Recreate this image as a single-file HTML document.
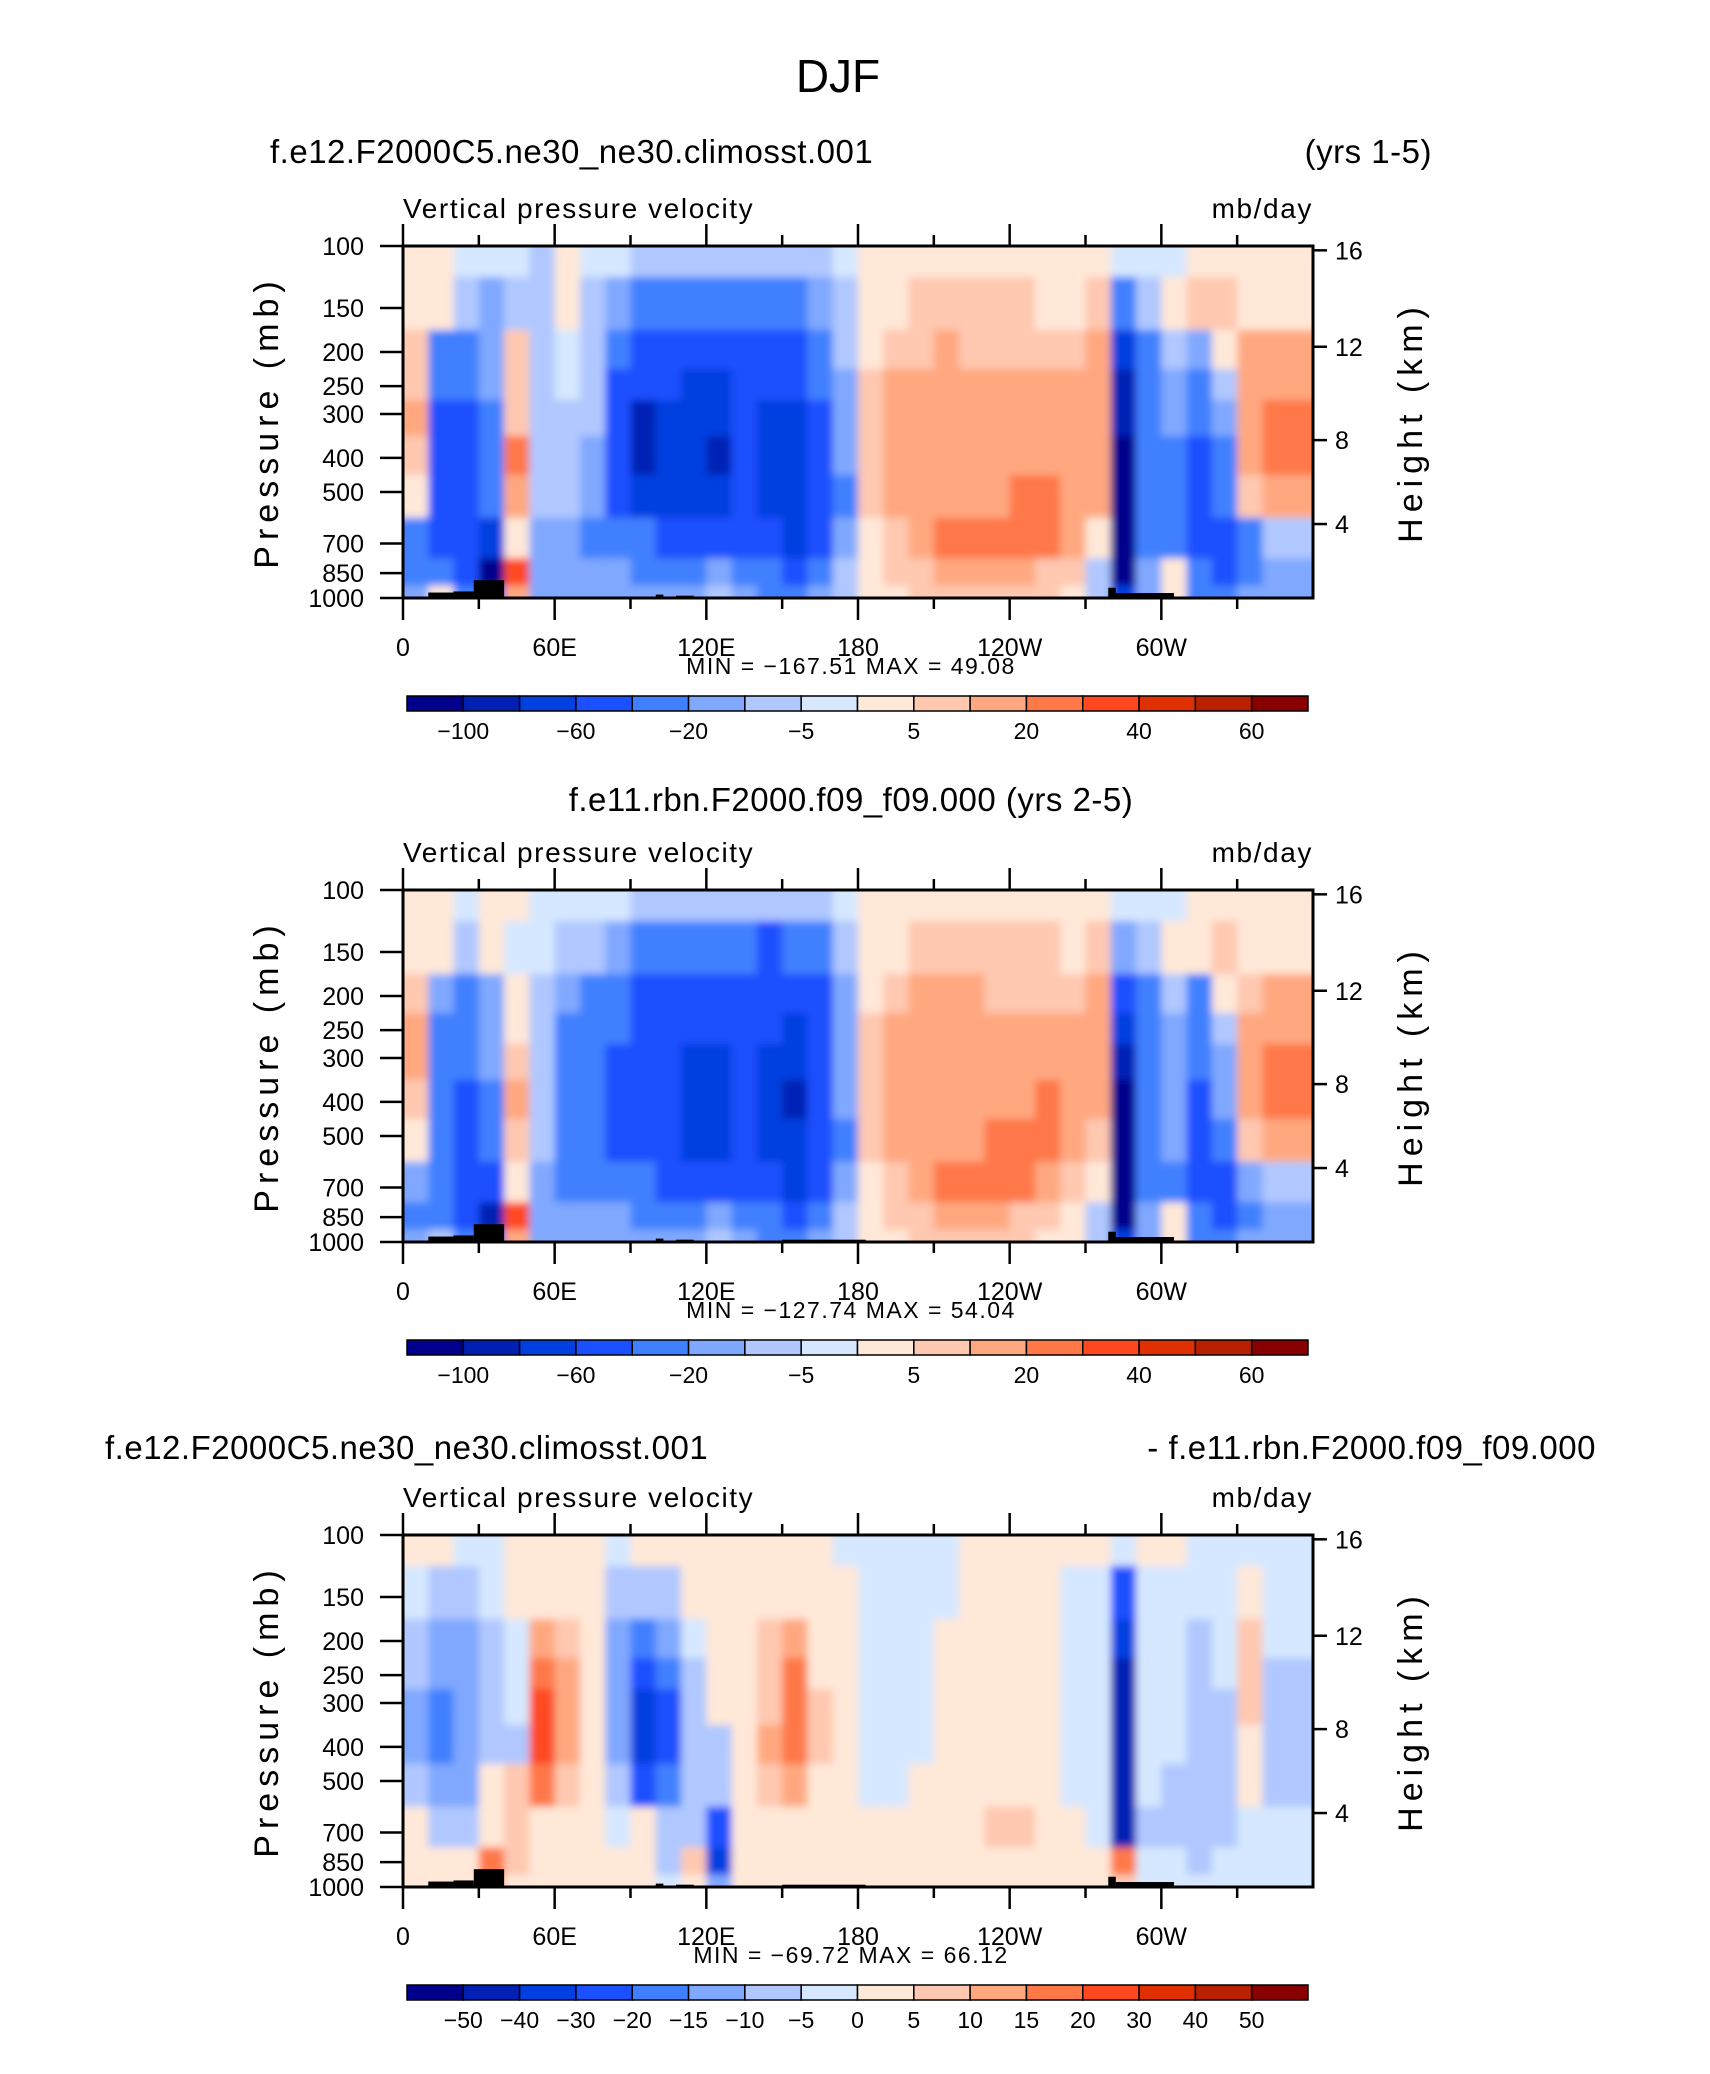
<!DOCTYPE html>
<html><head><meta charset="utf-8"><style>
html,body{margin:0;padding:0;background:#fff;}
svg{display:block;font-family:"Liberation Sans",sans-serif;}
</style></head><body>
<svg id="fig" width="1710" height="2074" viewBox="0 0 1710 2074" xmlns="http://www.w3.org/2000/svg">
<defs><filter id="soft" x="-2%" y="-2%" width="104%" height="104%"><feGaussianBlur stdDeviation="4"/></filter></defs>
<text x="838" y="92" font-size="46" text-anchor="middle" fill="#000" font-weight="300">DJF</text>
<g id="panels"></g>
</svg>
<script>
const levels = [100,150,200,250,300,400,500,700,850,1000];
const lonStart = [0,10,20,30,40,50,60,70,80,90,100,110,120,130,140,150,160,170,180,190,200,210,220,230,240,250,260,270,280,290,300,310,320,330,340,350];
// ---- Panel 1: f.e12 ----
const a100 = [3,2,-3,-3,-3,-5,2,-3,-3,-5,-5,-5,-5,-5,-5,-5,-5,-3,3,3,3,3,3,3,3,3,3,3,-3,-3,-3,3,3,3,3,3];
const a150 = [3,2,-5,-10,-5,-5,3,-5,-15,-20,-30,-30,-25,-20,-25,-25,-15,-5,3,4,6,8,8,6,6,5,5,8,-20,-5,3,8,8,5,5,5];
const a200 = [8,-20,-30,-15,8,-5,-3,-5,-30,-40,-50,-50,-50,-40,-50,-45,-30,-8,5,8,10,12,10,10,10,10,10,12,-60,-20,-5,-10,3,12,12,12];
const a250 = [10,-35,-35,-15,6,-5,-4,-5,-40,-55,-55,-60,-60,-45,-55,-55,-35,-10,6,12,15,15,12,15,15,12,12,15,-80,-25,-10,-30,-5,15,20,20];
const a300 = [12,-40,-40,-20,8,-5,-5,-8,-50,-80,-60,-65,-70,-50,-60,-60,-40,-12,8,15,15,15,12,15,15,15,15,18,-90,-25,-15,-35,-10,20,30,25];
const a400 = [10,-40,-40,-25,25,-5,-5,-10,-50,-80,-60,-65,-80,-55,-60,-65,-40,-15,8,15,15,15,15,15,15,20,18,20,-100,-30,-20,-40,-20,20,30,25];
const a500 = [3,-40,-40,-30,15,-5,-8,-15,-40,-60,-60,-60,-70,-55,-60,-60,-40,-20,8,12,15,18,20,20,22,22,20,15,-100,-30,-20,-40,-30,10,15,12];
const a700 = [-20,-40,-40,-60,5,-10,-15,-20,-25,-30,-40,-40,-40,-40,-50,-60,-40,-15,5,10,15,25,25,25,25,22,20,5,-100,-25,-30,-40,-40,-20,-5,-5];
const a850 = [-20,-30,-50,-100,40,-10,-15,-15,-15,-20,-20,-20,-10,-20,-30,-40,-25,-8,3,8,10,12,12,12,12,10,8,-5,-100,-15,5,-30,-40,-25,-10,-10];
const a1000 = [-10,5,-20,-50,20,-10,-10,-10,-10,-15,-15,-15,-5,-15,-20,-25,-15,-5,3,5,8,8,8,8,8,8,5,-5,-60,-10,5,-20,-20,-15,-10,-10];
// ---- Panel 2: f.e11 ----
const b100 = [3,2,-3,3,3,-3,-3,-3,-3,-5,-5,-5,-5,-8,-8,-5,-5,-3,3,3,3,3,3,3,3,3,3,3,-3,-3,-3,3,3,3,3,3];
const b150 = [3,3,-5,5,-3,-3,-5,-8,-15,-20,-25,-30,-30,-30,-40,-30,-20,-5,3,5,8,8,8,6,6,6,5,8,-15,-5,3,5,8,5,5,5];
const b200 = [10,-10,-20,-10,5,-5,-15,-20,-30,-40,-40,-50,-50,-45,-50,-50,-40,-10,5,10,15,15,12,10,10,10,10,12,-40,-20,-5,-20,3,10,12,12];
const b250 = [15,-20,-30,-15,5,-5,-30,-20,-35,-45,-50,-55,-55,-50,-55,-60,-40,-12,6,12,18,18,15,15,15,15,15,15,-60,-25,-10,-30,-5,15,20,20];
const b300 = [15,-25,-35,-15,8,-5,-30,-20,-40,-50,-50,-60,-60,-50,-60,-65,-45,-15,8,15,18,18,15,15,18,18,20,15,-80,-30,-10,-35,-10,20,30,25];
const b400 = [10,-25,-40,-20,15,-5,-30,-20,-40,-50,-55,-60,-65,-55,-60,-80,-45,-15,8,15,18,18,15,18,20,25,20,15,-100,-30,-15,-40,-15,20,30,25];
const b500 = [3,-30,-40,-25,10,-5,-30,-20,-40,-50,-55,-60,-60,-55,-60,-70,-50,-20,8,12,15,18,20,22,25,22,18,10,-100,-30,-15,-40,-25,10,15,12];
const b700 = [-15,-30,-40,-50,5,-10,-25,-20,-25,-30,-40,-40,-40,-40,-50,-60,-40,-15,5,10,15,25,28,28,22,18,10,3,-100,-25,-30,-40,-40,-15,-5,-5];
const b850 = [-20,-30,-50,-80,40,-10,-15,-15,-15,-20,-20,-20,-10,-20,-30,-40,-25,-8,3,8,10,12,12,12,10,10,5,-5,-100,-15,5,-30,-40,-25,-10,-10];
const b1000 = [-10,-5,-20,-40,20,-10,-10,-10,-10,-15,-15,-15,-5,-15,-20,-25,-15,-5,3,5,8,8,8,8,8,5,5,-5,-60,-10,5,-20,-20,-15,-10,-10];
// ---- Panel 3: difference ----
const c100 = [3,3,-3,-3,3,3,3,3,-3,3,3,3,3,3,3,3,3,-3,-3,-3,-3,-3,3,3,3,3,3,3,-3,3,3,-3,-3,-3,-3,-3];
const c150 = [-3,-5,-5,-3,3,5,5,3,-5,-5,-5,3,3,3,5,5,3,3,-3,-3,-3,-3,3,3,3,3,-3,-3,-20,-3,-3,-3,-3,3,-3,-3];
const c200 = [-5,-10,-10,-5,-3,15,10,5,-10,-15,-10,-3,3,5,10,15,5,3,-3,-3,-3,3,3,3,3,3,-3,-3,-30,-3,-3,-5,-3,8,-3,-3];
const c250 = [-5,-10,-10,-5,-3,20,15,5,-10,-20,-15,-5,3,5,10,20,5,3,-3,-3,-3,3,3,3,3,3,-3,-3,-40,-3,-3,-5,-3,10,-5,-5];
const c300 = [-10,-15,-10,-5,-3,30,15,5,-10,-30,-20,-5,3,5,10,20,8,3,-3,-3,-3,3,3,3,3,3,-3,-3,-40,-3,-3,-5,-5,10,-5,-5];
const c400 = [-10,-15,-10,-5,-5,30,15,5,-10,-30,-20,-5,-5,5,15,20,8,3,-3,-3,-3,3,3,3,3,3,-3,-3,-40,-3,-3,-8,-5,5,-5,-5];
const c500 = [-5,-10,-10,3,10,20,10,5,-5,-20,-15,-5,-5,5,10,15,5,3,-3,-3,3,3,3,5,5,3,-3,-3,-40,-3,-5,-5,-5,3,-5,-8];
const c700 = [3,-5,-5,5,10,5,5,3,-3,3,-5,-5,-20,3,5,5,3,3,3,3,3,5,5,8,8,5,3,-3,-40,-5,-5,-5,-5,-3,-3,-3];
const c850 = [3,3,5,20,10,5,5,3,3,5,-5,10,-30,3,5,3,3,3,3,3,3,3,5,5,5,3,3,3,20,-3,-3,-5,-3,-3,-3,-3];
const c1000 = [3,3,5,15,5,3,3,3,3,3,-3,5,-10,3,3,3,3,3,3,3,3,3,3,3,3,3,3,3,10,-3,-3,-3,-3,-3,-3,-3];
const bounds12 = [-100,-80,-60,-40,-20,-10,-5,0,5,10,20,30,40,50,60];
const labels12 = ["−100","","−60","","−20","","−5","","5","","20","","40","","60"];
const bounds3 = [-50,-40,-30,-20,-15,-10,-5,0,5,10,15,20,30,40,50];
const labels3 = ["−50","−40","−30","−20","−15","−10","−5","0","5","10","15","20","30","40","50"];
const stats1 = ["MIN = −167.51","MAX =   49.08"];
const stats2 = ["MIN = −127.74","MAX =   54.04"];
const stats3 = ["MIN = −69.72","MAX =   66.12"];
const xTicks = [0,60,120,180,240,300];
const xTickLabels = ["0","60E","120E","180","120W","60W"];
const heightTicks = [16,12,8,4];
const terrainLon0 = [10,20,28,100,108,279,282];
const terrainLon1 = [20,28,40,103,115,282,305];
const terrainTop = [965,958,890,978,985,935,968];
const terrainTop3 = [150,183,985];

const colors = ["#00008c","#0020b4","#0040e0","#1a50ff","#4080ff","#80a8ff","#b0c8ff","#d6e8ff","#ffe8d8","#ffc8b0","#ffa880","#ff7848","#ff4820","#e03000","#b82000","#880000"];
const NS = "http://www.w3.org/2000/svg";
const L = 403, R = 1313, PW = R - L, PH = 352;
function xLon(lon){ return L + lon / 360 * PW; }
function yP(p, top){ return top + (Math.log10(p) - 2) * PH; }
function zToP(z){ z = z*1000; return z < 11000 ? 1013.25*Math.pow(1-2.25577e-5*z,5.25588) : 226.32*Math.exp(-(z-11000)/6341.6); }
function colorFor(v, b){ let i=0; while(i<b.length && v>b[i]) i++; return colors[i]; }
function mk(tag, attrs, parent){ const e=document.createElementNS(NS,tag); for(const k in attrs) e.setAttribute(k,attrs[k]); parent.appendChild(e); return e; }
const root = document.getElementById('panels');

function drawPanel(idx, top, rows, bounds, cbLabels, stats, extraTerrain){
  const g = mk('g',{},root);
  
  
  const clipId = 'clip'+idx;
  const cp = mk('clipPath',{id:clipId},g); mk('rect',{x:L,y:top,width:PW,height:PH},cp);
  const clipG = mk('g',{'clip-path':'url(#'+clipId+')'},g);
  const cells = mk('g',{filter:'url(#soft)'},clipG);
  
  
  const lg = levels.map(p=>Math.log10(p));
  rows.forEach((row, r)=>{
    const y0 = r===0 ? top-10 : yP(Math.pow(10,(lg[r-1]+lg[r])/2), top);
    const y1 = r===levels.length-1 ? top+PH+10 : yP(Math.pow(10,(lg[r]+lg[r+1])/2), top);
    row.forEach((v, c)=>{
      let x0 = xLon(lonStart[c]), x1 = xLon(lonStart[c]+10);
      if(c===0) x0 -= 10;
      if(c===row.length-1) x1 += 10;
      const cell = mk('rect',{x:x0, y:y0, width:x1-x0+0.6, height:y1-y0+0.6, fill:colorFor(v,bounds)}, cells);
      
      
    });
  });
  for(let i=0;i<terrainLon0.length;i++){
    const x0=xLon(terrainLon0[i]), x1=xLon(terrainLon1[i]), y0=yP(terrainTop[i],top);
    const t = mk('rect',{x:x0,y:y0,width:x1-x0,height:top+PH-y0,fill:'#000'},g);
    
    
  }
  if(extraTerrain){
    const x0=xLon(terrainTop3[0]), x1=xLon(terrainTop3[1]), y0=yP(terrainTop3[2],top);
    const t = mk('rect',{x:x0,y:y0,width:x1-x0,height:top+PH-y0,fill:'#000'},g);
    
    
  }
  const fr = mk('rect',{x:L,y:top,width:PW,height:PH,fill:'none',stroke:'#000','stroke-width':3},g);
  
  
  for(let lon=0; lon<360; lon+=30){
    const x = xLon(lon), major = lon%60===0, len = major?22:11;
    const tb = mk('line',{x1:x,y1:top+PH,x2:x,y2:top+PH+len,stroke:'#000','stroke-width':2.5},g);
    
    
    const tt = mk('line',{x1:x,y1:top,x2:x,y2:top-len,stroke:'#000','stroke-width':2.5},g);
    
    
  }
  xTicks.forEach((lon,i)=>{
    const t = mk('text',{x:xLon(lon),y:top+PH+58,'font-size':25,'text-anchor':'middle'},g);
    t.textContent = xTickLabels[i];
    
    
  });
  levels.forEach(p=>{
    const y=yP(p,top);
    const t = mk('line',{x1:L-23,y1:y,x2:L,y2:y,stroke:'#000','stroke-width':2.5},g);
    
    
    const lb = mk('text',{x:L-39,y:y+9,'font-size':25,'text-anchor':'end'},g);
    lb.textContent = String(p);
    
    
  });
  heightTicks.forEach(z=>{
    const y=yP(zToP(z),top);
    const t = mk('line',{x1:R,y1:y,x2:R+14,y2:y,stroke:'#000','stroke-width':2.5},g);
    
    
    const lb = mk('text',{x:R+22,y:y+9,'font-size':25},g);
    lb.textContent = String(z);
    
    
  });
  const yt = mk('text',{x:0,y:0,'font-size':34,'text-anchor':'middle','letter-spacing':6,transform:'translate(278 '+(top+176)+') rotate(-90)'},g);
  yt.textContent = 'Pressure (mb)';
  
  
  const ht = mk('text',{x:0,y:0,'font-size':34,'text-anchor':'middle','letter-spacing':6,transform:'translate(1422 '+(top+176)+') rotate(-90)'},g);
  ht.textContent = 'Height (km)';
  
  
  const vl = mk('text',{x:L,y:top-28,'font-size':28,'letter-spacing':1.6},g);
  vl.textContent = 'Vertical pressure velocity';
  
  
  const ul = mk('text',{x:R,y:top-28,'font-size':28,'text-anchor':'end','letter-spacing':1.6},g);
  ul.textContent = 'mb/day';
  
  
  const st = mk('text',{x:851,y:top+PH+76,'font-size':23,'text-anchor':'middle','letter-spacing':1.5},g);
  st.textContent = stats[0] + '   ' + stats[1];
  
  
  const cbL=407, cbR=1308, cbY=top+450, cbH=15, bw=(cbR-cbL)/16;
  colors.forEach((c,i)=>{
    const b = mk('rect',{x:cbL+i*bw,y:cbY,width:bw,height:cbH,fill:c,stroke:'#000','stroke-width':1.5},g);
    
    
  });
  cbLabels.forEach((s,i)=>{
    if(!s) return;
    const t = mk('text',{x:cbL+(i+1)*bw,y:cbY+cbH+28,'font-size':23,'text-anchor':'middle'},g);
    t.textContent = s;
    
    
  });
  return g;
}
function title(txt, x, y, anchor, name){
  const t = mk('text',{x:x,y:y,'font-size':33,'text-anchor':anchor,'letter-spacing':0.5},root);
  t.textContent = txt;
  
  
}
const T1=246, T2=890, T3=1535;
drawPanel(1, T1, [a100,a150,a200,a250,a300,a400,a500,a700,a850,a1000], bounds12, labels12, stats1, false);
drawPanel(2, T2, [b100,b150,b200,b250,b300,b400,b500,b700,b850,b1000], bounds12, labels12, stats2, true);
drawPanel(3, T3, [c100,c150,c200,c250,c300,c400,c500,c700,c850,c1000], bounds3, labels3, stats3, true);
title('f.e12.F2000C5.ne30_ne30.climosst.001', 270, 163, 'start', 'panel1-case-title');
title('(yrs 1-5)', 1432, 163, 'end', 'panel1-years-title');
title('f.e11.rbn.F2000.f09_f09.000 (yrs 2-5)', 851, 811, 'middle', 'panel2-case-title');
title('f.e12.F2000C5.ne30_ne30.climosst.001', 105, 1459, 'start', 'panel3-case-title');
title('- f.e11.rbn.F2000.f09_f09.000', 1596, 1459, 'end', 'panel3-diff-title');
</script>
</body></html>
